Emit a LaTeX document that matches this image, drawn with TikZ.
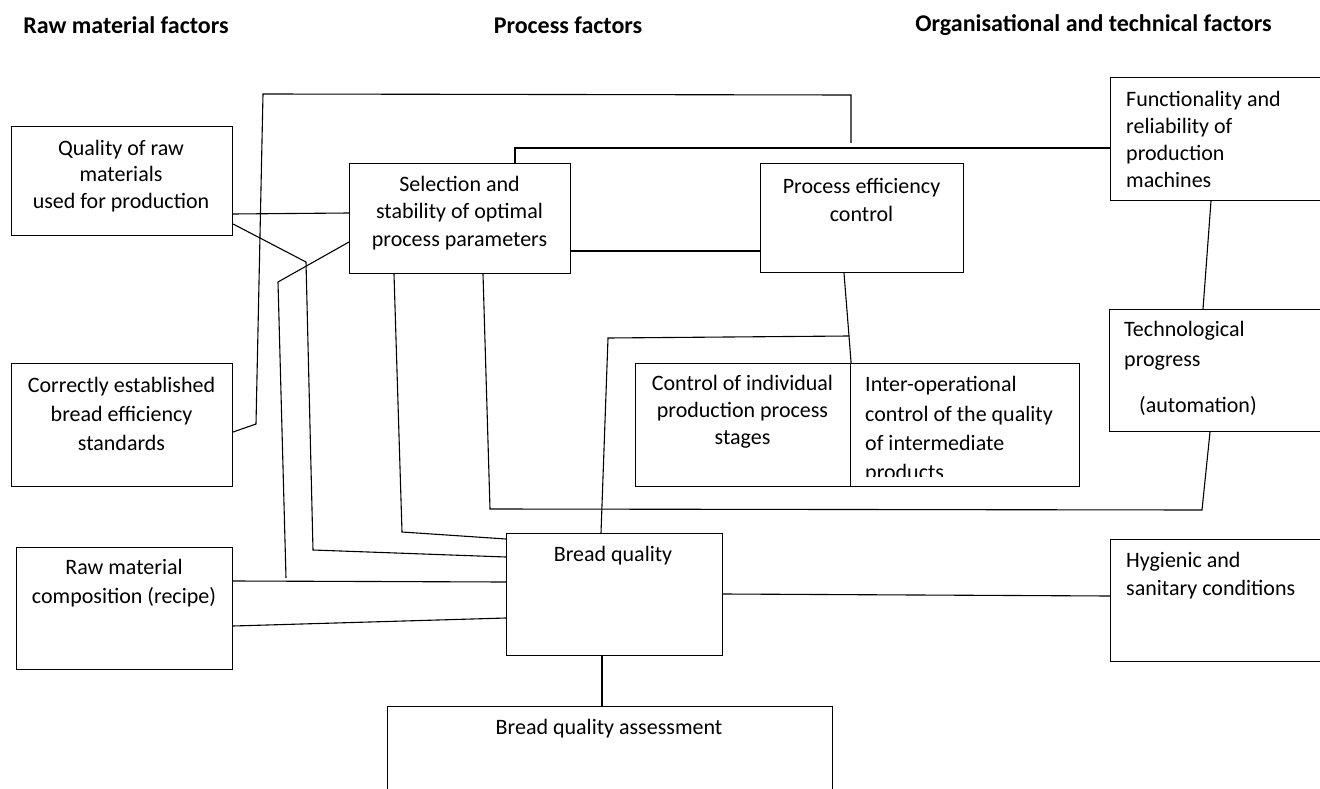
\documentclass[tikz,border=0pt]{standalone}
\usepackage{fontspec}
\setmainfont{Carlito}
\tikzset{
  box/.style={draw, line width=1.1pt, anchor=north west, inner sep=0pt},
  txt/.style={align=center, inner sep=0pt, font=\fontsize{22}{27.5}\selectfont},
  ltxt/.style={txt, align=left, anchor=west},
  head/.style={inner sep=0pt, font=\fontsize{24}{28}\selectfont\bfseries},
  link/.style={line width=1.1pt}
}
\begin{document}
\begin{tikzpicture}[x=1pt, y=-1pt]
  \useasboundingbox[fill=white] (0,0) rectangle (1320,789);
  % headings
  \node[head] (hraw) at (126,25) {Raw material factors};
  \node[head] (hproc) at (568,25) {Process factors};
  \node[head] (horg) at (1093.5,25) {Organisational and technical factors};
  % boxes
  \node[box, minimum width=221pt, minimum height=109pt] (qr) at (11,126) {};
  \node[box, minimum width=221pt, minimum height=123pt] (ce) at (11,363) {};
  \node[box, minimum width=216pt, minimum height=122pt] (rc) at (16,547) {};
  \node[box, minimum width=221pt, minimum height=110pt] (sel) at (349,163) {};
  \node[box, minimum width=203pt, minimum height=109pt] (pe) at (760,163) {};
  \node[box, minimum width=215pt, minimum height=123pt] (ci) at (635,363) {};
  \node[box, minimum width=229pt, minimum height=123pt] (io) at (850,363) {};
  \node[box, minimum width=216pt, minimum height=122pt] (bq) at (506,533) {};
  \node[box, minimum width=445pt, minimum height=94pt] (bqa) at (387,706) {};
  \node[box, minimum width=212pt, minimum height=123pt] (fn) at (1110,77) {};
  \node[box, minimum width=213pt, minimum height=122pt] (tp) at (1109,309) {};
  \node[box, minimum width=212pt, minimum height=122pt] (hy) at (1110,539) {};
  % texts
  \node[txt, font=\fontsize{22}{26.5}\selectfont] (qrt) at (121,176) {Quality of raw\\materials\\used for production};
  \node[txt, font=\fontsize{22}{29}\selectfont] (cet) at (121.5,414) {Correctly established\\bread efficiency\\standards};
  \node[txt, font=\fontsize{22}{29}\selectfont] (rct) at (124,583.5) {Raw material\\composition (recipe)};
  \node[txt] (selt) at (459.5,213) {Selection and\\stability of optimal\\process parameters};
  \node[txt, font=\fontsize{22}{28.5}\selectfont] (pet) at (861.5,200) {Process efficiency\\control};
  \node[txt, font=\fontsize{22}{27}\selectfont] (cit) at (742.5,412) {Control of individual\\production process\\stages};
  \begin{scope}
    \clip (io.north west) rectangle (1079,476);
    \node[ltxt, font=\fontsize{22}{29.3}\selectfont] (iot) at (865,430) {Inter-operational\\control of the quality\\of intermediate\\products};
  \end{scope}
  \node[txt] (bqt) at (613,556) {Bread quality};
  \node[txt] (bqat) at (609,729) {Bread quality assessment};
  \node[ltxt, font=\fontsize{22}{27}\selectfont] (fnt) at (1126,139.5) {Functionality and\\reliability of\\production\\machines};
  \node[ltxt, font=\fontsize{22}{30}\selectfont] (tpt) at (1124,346) {Technological\\progress};
  \node[ltxt] (tpa) at (1139,406) {(automation)};
  \node[ltxt, font=\fontsize{22}{28}\selectfont] (hyt) at (1126,576) {Hygienic and\\sanitary conditions};
  % connectors
  \coordinate (ctop) at (851,143);
  \coordinate (cend) at (286,578);
  \draw[link] (ce.east |- 0,432) -- (256,424) -- (263,94) -- (851,95) -- (ctop);
  \draw[link] (sel.north -| 515,0) -- (515,148) -- (fn.west |- 0,148);
  \draw[link] (qr.east |- 0,214) -- (sel.west |- 0,213);
  \draw[link] (qr.east |- 0,224) -- (306,262) -- (313,550) -- (bq.west |- 0,557);
  \draw[link] (sel.west |- 0,242) -- (278,282) -- (cend);
  \draw[link] (sel.south -| 394,0) -- (402,532) -- (bq.west |- 0,539);
  \draw[link] (sel.south -| 483,0) -- (490,509) -- (1202,510) -- (tp.south -| 1210,0);
  \draw[link] (sel.east |- 0,251) -- (pe.west |- 0,251);
  \draw[link] (pe.south -| 844,0) -- (849,336) coordinate (fork) -- (ci.north east);
  \draw[link] (fork) -- (608,338) -- (bq.north -| 601,0);
  \draw[link] (rc.east |- 0,581) -- (bq.west |- 0,582);
  \draw[link] (rc.east |- 0,626) -- (bq.west |- 0,618);
  \draw[link] (bq.east |- 0,594) -- (hy.west |- 0,596);
  \draw[link] (bq.south -| 602,0) -- (bqa.north -| 602,0);
  \draw[link] (fn.south -| 1211,0) -- (tp.north -| 1203,0);
\end{tikzpicture}
\end{document}
